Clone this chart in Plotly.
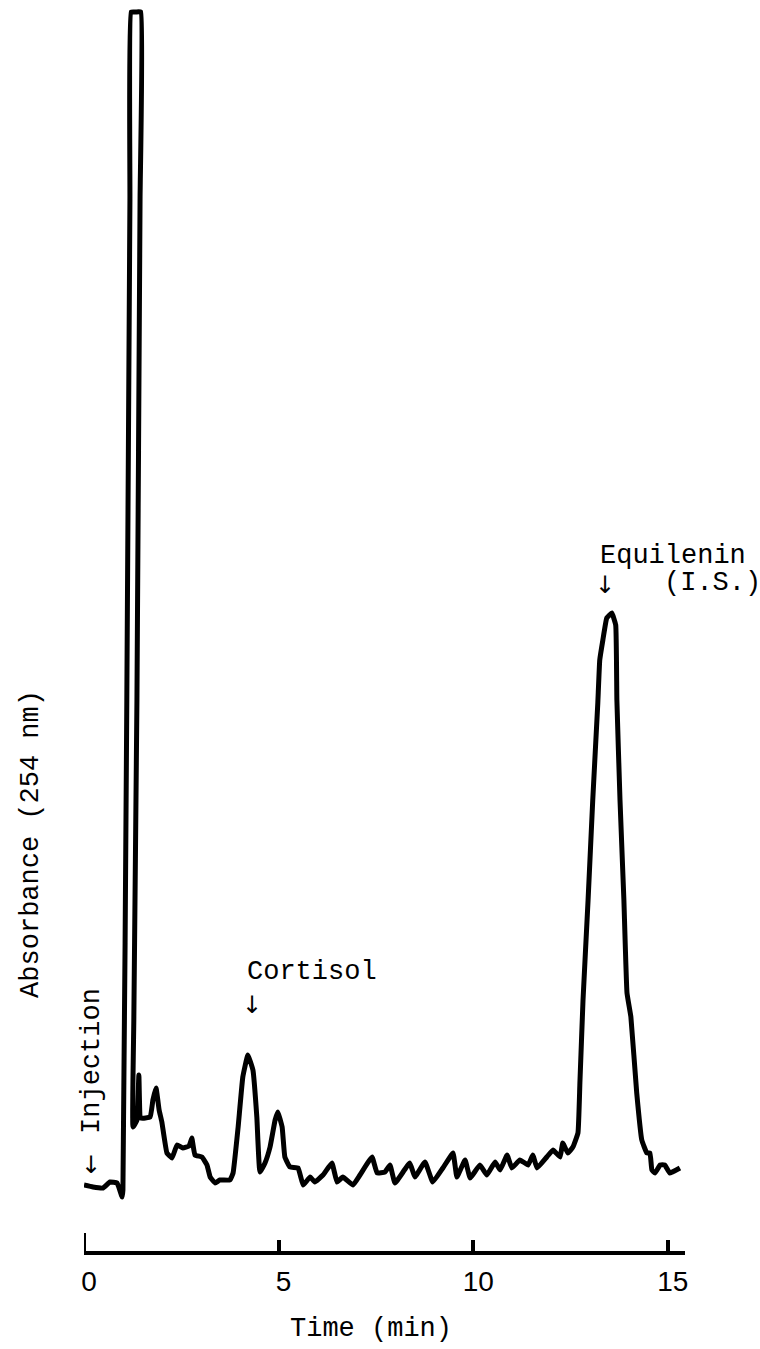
import plotly.graph_objects as go

# Chromatogram trace: retention time (min) and detector response (relative absorbance)
time_min = [
    0.00, 0.23, 0.49, 0.67, 0.85, 0.98, 1.00, 1.10, 1.18, 1.21, 1.33, 1.46, 1.44, 1.36,
    1.28, 1.26, 1.36, 1.41, 1.46, 1.70, 1.77, 1.85, 1.93, 2.00, 2.13, 2.26, 2.39, 2.54,
    2.70, 2.77, 2.85, 3.03, 3.16, 3.24, 3.37, 3.49, 3.75, 3.83, 3.96, 4.08, 4.21, 4.34,
    4.44, 4.52, 4.65, 4.78, 4.91, 4.98, 5.09, 5.16, 5.29, 5.50, 5.63, 5.81, 5.93, 6.14,
    6.37, 6.50, 6.65, 6.91, 7.09, 7.40, 7.53, 7.73, 7.86, 7.99, 8.37, 8.50, 8.76, 8.96,
    9.22, 9.48, 9.58, 9.79, 9.92, 10.17, 10.35, 10.56, 10.69, 10.87, 10.99, 11.20,
    11.41, 11.53, 11.64, 11.89, 12.05, 12.23, 12.30, 12.43, 12.56, 12.69, 12.74, 12.82,
    12.95, 13.07, 13.20, 13.25, 13.33, 13.43, 13.56, 13.66, 13.69, 13.77, 13.87, 13.95,
    14.05, 14.20, 14.33, 14.46, 14.54, 14.59, 14.67, 14.80, 14.92, 15.05, 15.31,
]
absorbance = [
    0.005, 0.003, 0.002, 0.008, 0.007, -0.007, 0.000, 0.490, 0.990, 1.178, 1.178, 1.178,
    0.990, 0.490, 0.170, 0.063, 0.070, 0.115, 0.072, 0.073, 0.090, 0.102, 0.080, 0.068,
    0.037, 0.032, 0.045, 0.042, 0.044, 0.052, 0.035, 0.033, 0.025, 0.013, 0.007, 0.010,
    0.010, 0.017, 0.063, 0.113, 0.135, 0.120, 0.073, 0.018, 0.027, 0.043, 0.070, 0.078,
    0.063, 0.033, 0.023, 0.022, 0.005, 0.013, 0.008, 0.015, 0.027, 0.008, 0.013, 0.005,
    0.015, 0.033, 0.017, 0.018, 0.025, 0.007, 0.027, 0.013, 0.028, 0.008, 0.022, 0.037,
    0.013, 0.030, 0.012, 0.025, 0.015, 0.028, 0.020, 0.035, 0.022, 0.030, 0.025, 0.035,
    0.022, 0.033, 0.040, 0.033, 0.047, 0.037, 0.043, 0.057, 0.107, 0.190, 0.290, 0.390,
    0.487, 0.530, 0.550, 0.572, 0.577, 0.565, 0.490, 0.390, 0.290, 0.197, 0.173, 0.097,
    0.050, 0.037, 0.037, 0.020, 0.017, 0.025, 0.025, 0.017, 0.022,
]

tick_values = [0, 5, 10, 15]
tick_labels = ["0", "5", "10", "15"]

TYPE_FONT = "Liberation Mono, DejaVu Sans Mono, monospace"
LABEL_SIZE = 27
ARROW_FONT = dict(family="DejaVu Sans, sans-serif", size=24, color="black")

fig = go.Figure()
fig.add_trace(go.Scatter(
    x=time_min, y=absorbance, mode="lines",
    line=dict(color="black", width=5, shape="spline", smoothing=0.3),
    cliponaxis=False, hoverinfo="skip", showlegend=False,
))

# Peak labels with pointer arrows
annotations = [
    dict(text="Injection", x=0.205, y=0.129, textangle=-90,
         xanchor="center", yanchor="middle"),
    dict(text="↓", x=0.18, y=0.025, xanchor="center", yanchor="middle", font=ARROW_FONT),
    dict(text="Cortisol", x=4.14, y=0.218, xanchor="left", yanchor="middle"),
    dict(text="↓", x=4.32, y=0.185, xanchor="center", yanchor="middle", font=ARROW_FONT),
    dict(text="Equilenin", x=13.20, y=0.634, xanchor="left", yanchor="middle"),
    dict(text="↓", x=13.38, y=0.605, xanchor="center", yanchor="middle", font=ARROW_FONT),
    dict(text="(I.S.)", x=14.85, y=0.607, xanchor="left", yanchor="middle"),
]
for a in annotations:
    a.setdefault("font", dict(family=TYPE_FONT, size=LABEL_SIZE, color="black"))
    a.update(xref="x", yref="y", showarrow=False)

# Axis titles
annotations += [
    dict(text="Absorbance (254 nm)", xref="paper", yref="paper",
         x=-0.0882, y=0.327, textangle=-90, showarrow=False,
         xanchor="center", yanchor="middle",
         font=dict(family=TYPE_FONT, size=LABEL_SIZE, color="black")),
    dict(text="Time (min)", xref="paper", yref="paper",
         x=0.4775, y=-0.0627, showarrow=False,
         xanchor="center", yanchor="middle",
         font=dict(family=TYPE_FONT, size=LABEL_SIZE, color="black")),
]

fig.update_layout(
    width=760, height=1349,
    margin=dict(l=84, r=75, t=6, b=98),
    paper_bgcolor="white", plot_bgcolor="white",
    annotations=annotations,
    # taller start mark at time zero on the time axis
    shapes=[dict(type="line", xref="x", yref="paper", x0=0, x1=0,
                 y0=0, y1=18 / 1245, line=dict(color="black", width=4))],
    xaxis=dict(
        range=[0, 15.44],
        showgrid=False, zeroline=False,
        showline=True, linecolor="black", linewidth=4,
        ticks="inside", ticklen=11, tickwidth=4, tickcolor="black",
        tickvals=tick_values, ticktext=tick_labels,
        ticklabelstandoff=2, ticklabelshift=5,
        tickfont=dict(family="Liberation Sans, Arial, sans-serif", size=28, color="black"),
    ),
    yaxis=dict(range=[-0.061, 1.184], visible=False),
)

fig.write_html("out.html")
